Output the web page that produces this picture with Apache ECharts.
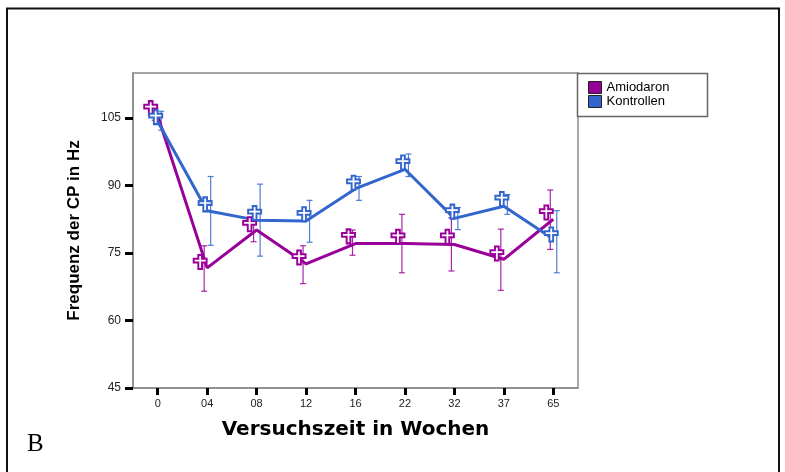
<!DOCTYPE html>
<html>
<head>
<meta charset="utf-8">
<script src="https://cdn.jsdelivr.net/npm/echarts@6/dist/echarts.min.js"></script>
<style>
  html, body { margin: 0; padding: 0; background: #fff; }
  #chart { width: 785px; height: 472px; }
</style>
</head>
<body>
<div id="chart"></div>
<script>
// Messzeitpunkte (Wochen)
const weeks = ['0', '04', '08', '12', '16', '22', '32', '37', '65'];

// Verbindungslinien je Gruppe
const amioLine = [105.5, 71.7, 80.1, 72.6, 77.1, 77.1, 76.9, 73.6, 82.5];
const kontLine = [104.2, 84.4, 82.3, 82.1, 89.3, 93.6, 82.7, 85.4, 78.1];

// Kreuzmarker je Gruppe
const amioMark = [107.2, 73.0, 81.4, 74.0, 78.7, 78.6, 78.6, 74.9, 84.0];
const kontMark = [105.2, 85.8, 83.9, 83.6, 90.6, 95.1, 84.2, 87.0, 79.1];

// Fehlerbalken (untere / obere Grenze)
const amioLow  = [104.5, 66.5, 77.5, 68.2, 74.5, 70.6, 71.0, 66.7, 75.8];
const amioHigh = [108.0, 76.6, 83.0, 76.6, 80.1, 83.6, 82.8, 80.3, 89.0];
const kontLow  = [102.3, 76.7, 74.3, 77.4, 86.7, 92.0, 80.2, 83.6, 70.6];
const kontHigh = [106.5, 92.0, 90.3, 86.7, 92.0, 97.0, 85.1, 88.0, 84.4];

// Y-Achsenteilung
const yTicks = [45, 60, 75, 90, 105];

const PURPLE = '#990099';
const BLUE = '#3366cc';
const CROSS = 'path://M5,0 L9,0 L9,4 L14,4 L14,8 L9,8 L9,15 L5,15 L5,8 L0,8 L0,4 L5,4 Z';

function errorBars(offset, color) {
  return function (params, api) {
    const idx = api.value(0);
    const lo = api.coord([idx, api.value(1)]);
    const hi = api.coord([idx, api.value(2)]);
    const x = lo[0] + offset;
    const style = { stroke: color, lineWidth: 1.2, opacity: 0.85 };
    return {
      type: 'group',
      children: [
        { type: 'line', shape: { x1: x, y1: lo[1], x2: x, y2: hi[1] }, style },
        { type: 'line', shape: { x1: x - 3, y1: lo[1], x2: x + 3, y2: lo[1] }, style },
        { type: 'line', shape: { x1: x - 3, y1: hi[1], x2: x + 3, y2: hi[1] }, style }
      ]
    };
  };
}

const chart = echarts.init(document.getElementById('chart'), null, { renderer: 'canvas' });

chart.setOption({
  backgroundColor: '#fff',
  animation: false,
  textStyle: { fontFamily: 'Liberation Sans, Arial, sans-serif' },
  grid: {
    left: 133, top: 73, right: 207, bottom: 84,
    show: true, borderColor: '#8a8a8a', borderWidth: 1.5, backgroundColor: '#fff'
  },
  legend: {
    orient: 'vertical',
    left: 588, top: 81,
    padding: 0,
    itemWidth: 13, itemHeight: 12, itemGap: 1,
    textStyle: { fontSize: 13, color: '#000', fontFamily: 'Liberation Sans, Arial, sans-serif' },
    data: [
      { name: 'Amiodaron', icon: 'rect', itemStyle: { color: PURPLE, borderColor: '#222', borderWidth: 1 } },
      { name: 'Kontrollen', icon: 'rect', itemStyle: { color: BLUE, borderColor: '#222', borderWidth: 1 } }
    ]
  },
  xAxis: {
    type: 'category',
    data: weeks,
    boundaryGap: true,
    name: 'Versuchszeit in Wochen',
    nameLocation: 'middle',
    nameGap: 32,
    nameTextStyle: { fontSize: 20, fontWeight: 'bold', color: '#000', fontFamily: 'DejaVu Sans, sans-serif' },
    axisLine: { show: true, lineStyle: { color: '#8a8a8a', width: 1.5 } },
    axisTick: { show: true, alignWithLabel: true, length: 7, lineStyle: { color: '#000', width: 3 } },
    axisLabel: { fontSize: 11, color: '#222', margin: 10 },
    splitLine: { show: false }
  },
  yAxis: {
    type: 'value',
    min: 45, max: 115,
    interval: 15,
    name: 'Frequenz der CP in Hz',
    nameLocation: 'middle',
    nameRotate: 90,
    nameGap: 50,
    nameTextStyle: { fontSize: 17, fontWeight: 'bold', color: '#000' },
    axisLine: { show: true, lineStyle: { color: '#8a8a8a', width: 1.5 } },
    axisTick: { show: true, length: 8, customValues: yTicks, lineStyle: { color: '#000', width: 3 } },
    axisLabel: { fontSize: 12, color: '#222', margin: 12, customValues: yTicks },
    splitLine: { show: false }
  },
  graphic: [
    // äußerer Rahmen
    { type: 'polyline', z: 0, shape: { points: [[7, 480], [7, 8.5], [779, 8.5], [779, 480]] },
      style: { stroke: '#111', lineWidth: 2, fill: null } },
    // Legendenrahmen
    { type: 'rect', z: 1, shape: { x: 577.5, y: 73.5, width: 130, height: 43 },
      style: { stroke: '#666', lineWidth: 1.5, fill: '#fff' } },
    { type: 'text', z: 5, left: 27, top: 432,
      style: { text: 'B', font: '25px "Liberation Serif", "Times New Roman", serif', fill: '#000' } }
  ],
  series: [
    {
      name: 'Amiodaron', type: 'custom', z: 2,
      renderItem: errorBars(-3, PURPLE),
      encode: { x: 0, y: [1, 2] },
      data: weeks.map((w, i) => [i, amioLow[i], amioHigh[i]])
    },
    {
      name: 'Kontrollen', type: 'custom', z: 2,
      renderItem: errorBars(3.5, BLUE),
      encode: { x: 0, y: [1, 2] },
      data: weeks.map((w, i) => [i, kontLow[i], kontHigh[i]])
    },
    {
      name: 'Amiodaron', type: 'line', z: 3,
      data: amioLine, showSymbol: false,
      lineStyle: { color: PURPLE, width: 3 }, itemStyle: { color: PURPLE }
    },
    {
      name: 'Kontrollen', type: 'line', z: 3,
      data: kontLine, showSymbol: false,
      lineStyle: { color: BLUE, width: 3 }, itemStyle: { color: BLUE }
    },
    {
      name: 'Amiodaron', type: 'scatter', z: 4,
      data: amioMark, symbol: CROSS, symbolSize: [13, 14], symbolOffset: [-7, 0],
      itemStyle: { color: '#fff', borderColor: PURPLE, borderWidth: 2, opacity: 1 }
    },
    {
      name: 'Kontrollen', type: 'scatter', z: 4,
      data: kontMark, symbol: CROSS, symbolSize: [13, 14], symbolOffset: [-2, 0],
      itemStyle: { color: '#fff', borderColor: BLUE, borderWidth: 2, opacity: 1 }
    }
  ]
});
</script>
</body>
</html>
